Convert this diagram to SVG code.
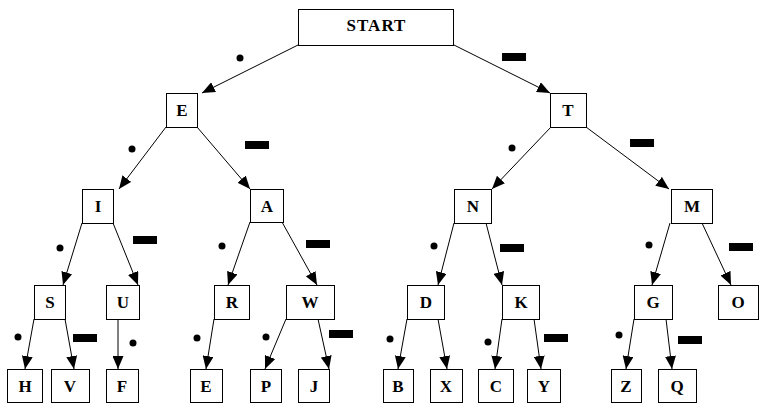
<svg xmlns="http://www.w3.org/2000/svg" width="759" height="407" viewBox="0 0 759 407">
<style>
.box{fill:#fff;stroke:#000;stroke-width:1}
.lbl{font-family:"Liberation Serif","Times New Roman",serif;font-weight:bold;font-size:17px;fill:#000;text-anchor:middle}
.edge{stroke:#000;stroke-width:1;fill:none;marker-end:url(#ah)}
.dot{fill:#000}
.dash{fill:#000}
</style>
<defs>
<marker id="ah" markerUnits="userSpaceOnUse" markerWidth="13" markerHeight="11" refX="13" refY="5.5" orient="auto">
<path d="M0,0 L13,5.5 L0,11 z" fill="#000"/>
</marker>
</defs>
<rect width="759" height="407" fill="#fff"/>
<g id="connectors">
<line class="edge" x1="298" y1="45" x2="202" y2="93"/>
<line class="edge" x1="454" y1="45" x2="550" y2="93"/>
<line class="edge" x1="166" y1="127" x2="119" y2="189"/>
<line class="edge" x1="197" y1="127" x2="250" y2="189"/>
<line class="edge" x1="551" y1="127" x2="492" y2="189"/>
<line class="edge" x1="586" y1="127" x2="669" y2="189"/>
<line class="edge" x1="82" y1="223" x2="63" y2="285"/>
<line class="edge" x1="113" y1="223" x2="138" y2="285"/>
<line class="edge" x1="250" y1="222" x2="228" y2="285"/>
<line class="edge" x1="282" y1="222" x2="317" y2="285"/>
<line class="edge" x1="454" y1="223" x2="438" y2="285"/>
<line class="edge" x1="486" y1="223" x2="502" y2="285"/>
<line class="edge" x1="670" y1="223" x2="652" y2="285"/>
<line class="edge" x1="702" y1="223" x2="731" y2="285"/>
<line class="edge" x1="34" y1="319" x2="25" y2="369"/>
<line class="edge" x1="65" y1="319" x2="74" y2="369"/>
<line class="edge" x1="118" y1="319" x2="118" y2="369"/>
<line class="edge" x1="214" y1="319" x2="206" y2="369"/>
<line class="edge" x1="286" y1="319" x2="265" y2="369"/>
<line class="edge" x1="318" y1="319" x2="329" y2="369"/>
<line class="edge" x1="407" y1="319" x2="398" y2="369"/>
<line class="edge" x1="438" y1="319" x2="447" y2="369"/>
<line class="edge" x1="502" y1="319" x2="495" y2="369"/>
<line class="edge" x1="534" y1="319" x2="541" y2="369"/>
<line class="edge" x1="634" y1="319" x2="626" y2="369"/>
<line class="edge" x1="666" y1="319" x2="672" y2="369"/>
</g>
<g id="edge-labels">
<circle class="dot" cx="240" cy="58" r="3.5"/>
<circle class="dot" cx="132" cy="149" r="3.5"/>
<circle class="dot" cx="512" cy="148" r="3.5"/>
<circle class="dot" cx="60" cy="248" r="3.5"/>
<circle class="dot" cx="222" cy="246" r="3.5"/>
<circle class="dot" cx="434" cy="246" r="3.5"/>
<circle class="dot" cx="649" cy="245" r="3.5"/>
<circle class="dot" cx="18" cy="337" r="3.5"/>
<circle class="dot" cx="133" cy="343" r="3.5"/>
<circle class="dot" cx="197" cy="338" r="3.5"/>
<circle class="dot" cx="266" cy="337" r="3.5"/>
<circle class="dot" cx="390" cy="339" r="3.5"/>
<circle class="dot" cx="488" cy="342" r="3.5"/>
<circle class="dot" cx="619" cy="335" r="3.5"/>
<rect class="dash" x="502" y="53" width="24" height="8"/>
<rect class="dash" x="245" y="141" width="24" height="8"/>
<rect class="dash" x="630" y="139" width="24" height="8"/>
<rect class="dash" x="133" y="236" width="24" height="8"/>
<rect class="dash" x="306" y="240" width="24" height="8"/>
<rect class="dash" x="500" y="244" width="24" height="8"/>
<rect class="dash" x="729" y="243" width="24" height="8"/>
<rect class="dash" x="73" y="334" width="24" height="8"/>
<rect class="dash" x="329" y="330" width="24" height="8"/>
<rect class="dash" x="544" y="334" width="24" height="8"/>
<rect class="dash" x="678" y="336" width="24" height="8"/>
</g>
<g id="n-start"><rect class="box" x="298.5" y="9.5" width="155" height="36"/><text class="lbl" x="376.5" y="31" letter-spacing="1">START</text></g>
<g id="n-E"><rect class="box" x="166.5" y="93.5" width="31" height="34"/><text class="lbl" x="182" y="116">E</text></g>
<g id="n-T"><rect class="box" x="550.5" y="93.5" width="36" height="34"/><text class="lbl" x="568" y="116">T</text></g>
<g id="n-I"><rect class="box" x="82.5" y="189.5" width="31" height="34"/><text class="lbl" x="98" y="212">I</text></g>
<g id="n-A"><rect class="box" x="250.5" y="189.5" width="33" height="33"/><text class="lbl" x="267" y="212">A</text></g>
<g id="n-N"><rect class="box" x="454.5" y="189.5" width="37" height="34"/><text class="lbl" x="473" y="212">N</text></g>
<g id="n-M"><rect class="box" x="671.5" y="189.5" width="41" height="34"/><text class="lbl" x="692" y="212">M</text></g>
<g id="n-S"><rect class="box" x="34.5" y="285.5" width="31" height="34"/><text class="lbl" x="50" y="308">S</text></g>
<g id="n-U"><rect class="box" x="106.5" y="285.5" width="33" height="34"/><text class="lbl" x="123" y="308">U</text></g>
<g id="n-R"><rect class="box" x="214.5" y="285.5" width="35" height="34"/><text class="lbl" x="232" y="308">R</text></g>
<g id="n-W"><rect class="box" x="286.5" y="285.5" width="48" height="34"/><text class="lbl" x="310" y="308">W</text></g>
<g id="n-D"><rect class="box" x="407.5" y="285.5" width="37" height="34"/><text class="lbl" x="426" y="308">D</text></g>
<g id="n-K"><rect class="box" x="502.5" y="285.5" width="37" height="34"/><text class="lbl" x="521" y="308">K</text></g>
<g id="n-G"><rect class="box" x="634.5" y="285.5" width="38" height="34"/><text class="lbl" x="653" y="308">G</text></g>
<g id="n-O"><rect class="box" x="718.5" y="285.5" width="40" height="34"/><text class="lbl" x="738" y="308">O</text></g>
<g id="n-H"><rect class="box" x="7.5" y="369.5" width="35" height="33"/><text class="lbl" x="25" y="392">H</text></g>
<g id="n-V"><rect class="box" x="51.5" y="369.5" width="38" height="33"/><text class="lbl" x="70" y="392">V</text></g>
<g id="n-F"><rect class="box" x="106.5" y="369.5" width="32" height="33"/><text class="lbl" x="122" y="392">F</text></g>
<g id="n-E2"><rect class="box" x="190.5" y="369.5" width="32" height="33"/><text class="lbl" x="206" y="392">E</text></g>
<g id="n-P"><rect class="box" x="250.5" y="369.5" width="31" height="33"/><text class="lbl" x="266" y="392">P</text></g>
<g id="n-J"><rect class="box" x="298.5" y="369.5" width="31" height="33"/><text class="lbl" x="314" y="392">J</text></g>
<g id="n-B"><rect class="box" x="383.5" y="369.5" width="30" height="33"/><text class="lbl" x="398" y="392">B</text></g>
<g id="n-X"><rect class="box" x="430.5" y="369.5" width="32" height="33"/><text class="lbl" x="446" y="392">X</text></g>
<g id="n-C"><rect class="box" x="478.5" y="369.5" width="35" height="33"/><text class="lbl" x="496" y="392">C</text></g>
<g id="n-Y"><rect class="box" x="527.5" y="369.5" width="33" height="33"/><text class="lbl" x="544" y="392">Y</text></g>
<g id="n-Z"><rect class="box" x="611.5" y="369.5" width="30" height="33"/><text class="lbl" x="626" y="392">Z</text></g>
<g id="n-Q"><rect class="box" x="658.5" y="369.5" width="38" height="33"/><text class="lbl" x="677" y="392">Q</text></g>
</svg>
